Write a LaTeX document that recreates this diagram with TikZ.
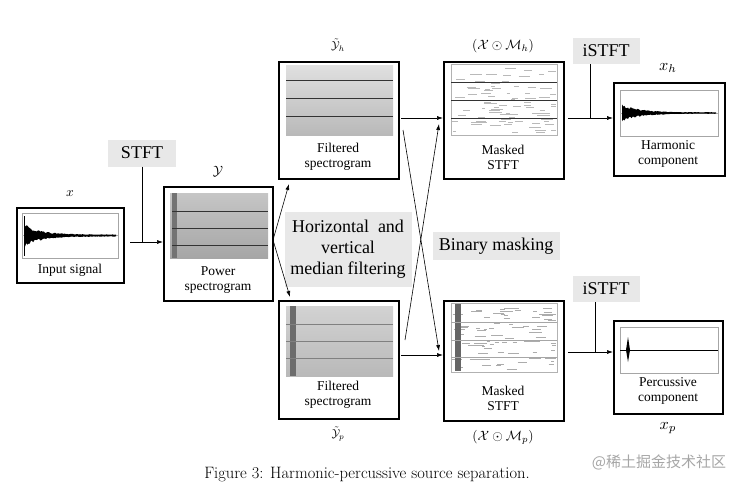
\documentclass[tikz,border=0pt]{standalone}
\usepackage{fontspec}
\usepackage{amsmath,amssymb}
\newfontfamily\tnr{Liberation Serif}
\newfontfamily\cjk{Noto Sans CJK SC}
\usetikzlibrary{arrows.meta}
\begin{document}
\begin{tikzpicture}[x=1pt,y=-1pt,
  frame/.style={draw,line width=1.7pt,anchor=north west,inner sep=0pt},
  lab/.style={font=\tnr\fontsize{13.5}{15}\selectfont,align=center},
  mth/.style={scale=1.35},
  op/.style={fill=gray!18,font=\tnr\fontsize{18}{21}\selectfont,align=center,inner sep=3pt},
  conn/.style={-{Latex[length=6pt,width=4pt]},line width=0.6pt},
  plain/.style={line width=0.6pt}]
\useasboundingbox (0,0) rectangle (744,487);
\pgfmathsetseed{7}
% ---- frames
\node[frame,minimum width=107pt,minimum height=75pt] (in) at (16,207) {};
\node[frame,minimum width=109pt,minimum height=114pt] (pw) at (163,186) {};
\node[frame,minimum width=120pt,minimum height=117pt] (fh) at (278,61) {};
\node[frame,minimum width=120pt,minimum height=118pt] (fp) at (278,300) {};
\node[frame,minimum width=120pt,minimum height=117pt] (mh) at (443,61) {};
\node[frame,minimum width=120pt,minimum height=120pt] (mp) at (443,300) {};
\node[frame,minimum width=111pt,minimum height=93pt] (hc) at (613,82) {};
\node[frame,minimum width=109pt,minimum height=93pt] (pc) at (613,320) {};
% ---- labels in frames
\node[lab] (l1) at (70,270) {Input signal};
\node[lab] (l2) at (218,280) {Power\\spectrogram};
\node[lab] (l3) at (338,157) {Filtered\\spectrogram};
\node[lab] (l4) at (338,395) {Filtered\\spectrogram};
\node[lab] (l5) at (503,157) {Masked\\STFT};
\node[lab] (l6) at (503,398) {Masked\\STFT};
\node[lab] (l7) at (668,154) {Harmonic\\component};
\node[lab] (l8) at (668,391) {Percussive\\component};
% ---- math labels
\node[mth] (t1) at (70,194) {$x$};
\node[mth] (t2) at (218,172) {$\mathcal{Y}$};
\node[mth,scale=0.85] (t3) at (338,45) {$\tilde{\mathcal{Y}}_h$};
\node[mth,scale=0.85] (t4) at (338,434) {$\tilde{\mathcal{Y}}_p$};
\node[mth] (t5) at (503,46) {$(\mathcal{X}\odot\mathcal{M}_h)$};
\node[mth] (t6) at (503,437) {$(\mathcal{X}\odot\mathcal{M}_p)$};
\node[mth,scale=1.2] (t7) at (668,68) {$x_h$};
\node[mth,scale=1.2] (t8) at (668,428) {$x_p$};
% ---- operation boxes
\node[op,minimum width=68pt,minimum height=27pt] (stft) at (142,153) {STFT};
\node[op,minimum width=67pt,minimum height=26pt] (is1) at (606,51) {iSTFT};
\node[op,minimum width=67pt,minimum height=26pt] (is2) at (606,289) {iSTFT};
\node[op,minimum width=127pt,minimum height=75pt,inner sep=1pt] (med) at (348,249) {Horizontal\ \ and\\vertical\\median filtering};
\node[op,minimum width=127pt,minimum height=28pt] (bm) at (496,246) {Binary masking};
% ---- waveform plots
\foreach \X/\Y/\W/\H/\tau/\A in {22/213/96/45/16/11, 620/90/98/46/18/8}{
  \draw[gray!70,line width=0.4pt] (\X,\Y) rectangle ++(\W,\H);
  \draw[gray!60,line width=0.3pt] (\X,\Y+\H/2) -- ++(\W,0);
  \fill[black] plot[domain=0:\W-4,samples=80] ({\X+2+\x},{\Y+\H/2-\A*(0.1+exp(-\x/\tau))*(0.6+0.4*rnd)})
     -- plot[domain=\W-4:0,samples=80] ({\X+2+\x},{\Y+\H/2+\A*(0.1+exp(-\x/\tau))*(0.6+0.4*rnd)}) -- cycle;
}
\draw[black,line width=0.8pt] (24,216) -- (24,256);
\draw[gray!70,line width=0.4pt] (620,327) rectangle ++(98,46);
\draw[black,line width=0.4pt] (620,350) -- ++(98,0);
\fill[black] (626,350) -- (628,337) -- (630,350) -- (628,362) -- cycle;
% ---- spectrograms
\shade[top color=gray!45,bottom color=gray!70] (170,193) rectangle (268,258);
\fill[gray!90!black] (172,193) rectangle (177,258);
\foreach \yy in {211,228,245} \draw[black!80,line width=0.9pt] (172,\yy) -- (268,\yy);
\shade[top color=gray!25,bottom color=gray!55] (286,66) rectangle (393,135);
\foreach \yy in {80,98,116} \draw[black!80,line width=0.9pt] (286,\yy) -- (393,\yy);
\shade[top color=gray!35,bottom color=gray!55] (286,306) rectangle (393,376);
\fill[gray!85!black] (290,306) rectangle (296,376);
\foreach \yy in {324,341,358} \draw[black!50,line width=0.8pt] (286,\yy) -- (393,\yy);
\draw[gray!60] (451,64) rectangle (557,135);
\draw[gray!60] (451,303) rectangle (557,372);
\foreach \i in {1,...,90}{
  \pgfmathsetmacro\px{452+100*rnd}\pgfmathsetmacro\py{66+67*rnd}\pgfmathsetmacro\pl{3+10*rnd}
  \draw[gray!55,line width=0.6pt] (\px,\py) -- ({min(\px+\pl,556)},\py);
  \pgfmathsetmacro\qx{452+100*rnd}\pgfmathsetmacro\qy{305+65*rnd}\pgfmathsetmacro\ql{3+10*rnd}
  \draw[gray!65,line width=0.8pt] (\qx,\qy) -- ({min(\qx+\ql,556)},\qy);
}
\foreach \yy in {82,100,118} \draw[black!80,line width=0.8pt] (451,\yy) -- (557,\yy);
\fill[gray!80!black] (455,304) rectangle (461,371);
\foreach \yy in {322,340,357} \draw[gray!70,line width=0.8pt] (451,\yy) -- (557,\yy);
% ---- connectors
\coordinate (a1) at (130,242);
\draw[conn] (a1) -- (pw.west|-a1);
\draw[plain] (stft.south) -- (stft.south|-a1);
\coordinate (p0) at (273,240);
\draw[conn] (p0) -- (289,184);
\draw[conn] (p0) -- (290,297);
\draw[conn] (401,118) -- (mh.west|-0,118);
\draw[conn] (401,355) -- (mp.west|-0,355);
\draw[conn] (403,130) -- (439,351);
\draw[conn] (405,340) -- (439,124);
\coordinate (b1) at (568,118);
\draw[conn] (b1) -- (hc.west|-b1);
\draw[plain] (is1.south-|590,0) -- (590,118);
\coordinate (b2) at (568,352);
\draw[conn] (b2) -- (pc.west|-b2);
\draw[plain] (is2.south-|595,0) -- (595,352);
% ---- caption
\node (cap) at (367,475) {\fontsize{16.5}{19}\selectfont Figure 3: Harmonic-percussive source separation.};
\node[text=gray!70] (wm) at (659,462) {\cjk\fontsize{15}{17}\selectfont @稀土掘金技术社区};
\end{tikzpicture}
\end{document}
